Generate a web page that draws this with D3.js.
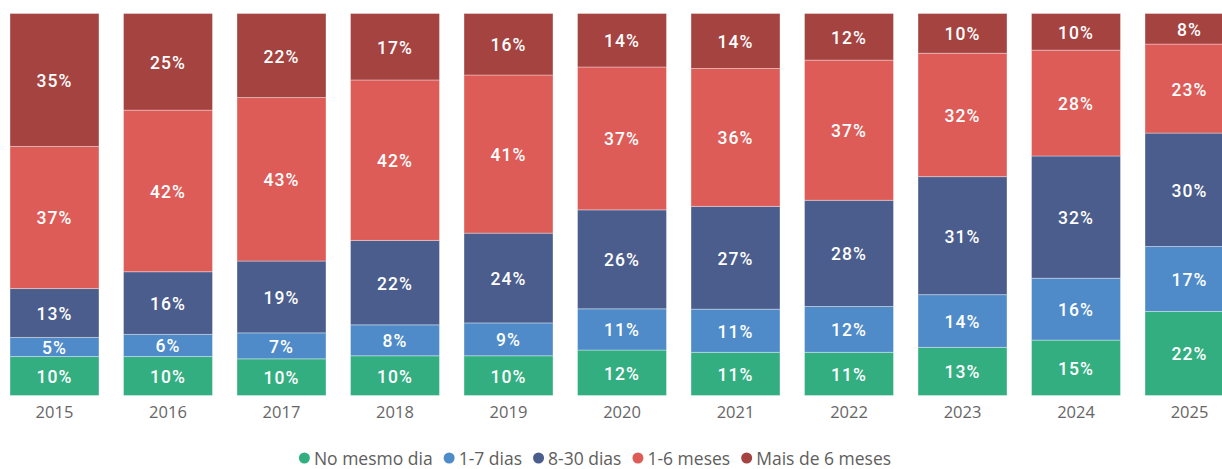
<!DOCTYPE html>
<html>
<head>
<meta charset="utf-8">
<script src="https://cdn.jsdelivr.net/npm/d3@7"></script>
<style>
  html, body { margin: 0; padding: 0; background: #fff; }
  svg { display: block; }
</style>
</head>
<body>
<svg id="chart" width="1222" height="469"></svg>
<script>
const years = ["2015","2016","2017","2018","2019","2020","2021","2022","2023","2024","2025"];
const seriesNames = ["No mesmo dia","1-7 dias","8-30 dias","1-6 meses","Mais de 6 meses"];
const seriesColors = ["#33ae81","#4f8bc9","#4b5d8c","#dd5c58","#a54341"];
// Percent values (labels shown rounded)
const noMesmoDia   = [10.2, 10.2, 9.6, 10.4, 10.4, 11.9, 11.3, 11.3, 12.6, 14.5, 22.0];
const umASete      = [ 5.0,  5.8, 6.8,  8.1,  8.6, 10.8, 11.3, 12.0, 13.8, 16.2, 17.0];
const oitoATrinta  = [12.8, 16.4, 18.8, 22.1, 23.5, 25.9, 26.9, 27.8, 30.9, 32.0, 29.7];
const umASeisMeses = [37.2, 42.3, 42.8, 42.0, 41.4, 37.4, 36.1, 36.7, 32.3, 27.7, 23.3];
const maisDeSeis   = [34.8, 25.3, 22.0, 17.4, 16.1, 14.0, 14.4, 12.2, 10.4,  9.6,  8.0];

const seriesValues = [noMesmoDia, umASete, oitoATrinta, umASeisMeses, maisDeSeis];
const rows = years.map((yr, i) => {
  const r = { year: yr };
  seriesNames.forEach((s, j) => r[s] = seriesValues[j][i]);
  return r;
});

const svg = d3.select("#chart");
const plotTop = 13.5, plotBottom = 395.5;

const x = d3.scaleBand().domain(years).range([10, 1234]).paddingInner(0.216).paddingOuter(0);
const y = d3.scaleLinear().domain([0, 1]).range([plotBottom, plotTop]);
const color = d3.scaleOrdinal().domain(seriesNames).range(seriesColors);

const stack = d3.stack().keys(seriesNames).offset(d3.stackOffsetExpand);
const stacked = stack(rows);

const layers = svg.append("g").selectAll("g")
  .data(stacked).join("g")
  .attr("fill", d => color(d.key));

layers.selectAll("rect")
  .data(d => d.map(p => Object.assign(p, { key: d.key })))
  .join("rect")
  .attr("x", d => x(d.data.year))
  .attr("width", x.bandwidth())
  .attr("y", d => y(d[1]))
  .attr("height", d => y(d[0]) - y(d[1]))
  .attr("stroke", "rgba(255,255,255,0.35)")
  .attr("stroke-width", 1);

layers.selectAll("text")
  .data(d => d)
  .join("text")
  .attr("x", d => x(d.data.year) + x.bandwidth() / 2)
  .attr("y", d => (y(d[0]) + y(d[1])) / 2 + 1)
  .attr("text-anchor", "middle")
  .attr("dominant-baseline", "central")
  .attr("fill", "#ffffff")
  .style("font-family", "Roboto, 'DejaVu Sans', sans-serif")
  .style("font-weight", "500")
  .style("font-size", "17.5px")
  .style("letter-spacing", "1px")
  .text(d => Math.round(d.data[d.key]) + "%");

// x axis
const xAxis = d3.axisBottom(x).tickSize(0).tickPadding(11);
const ax = svg.append("g").attr("transform", `translate(0,${plotBottom})`).call(xAxis);
ax.select(".domain").remove();
ax.selectAll("text")
  .attr("fill", "#666666")
  .style("font-family", "'Open Sans', 'Noto Sans', sans-serif")
  .style("font-size", "16.5px");

// legend
const legend = svg.append("g");
let lx = 0;
seriesNames.forEach((s, i) => {
  const g = legend.append("g").attr("transform", `translate(${lx},0)`);
  g.append("circle").attr("cx", 5.5).attr("cy", 0).attr("r", 5.5).attr("fill", seriesColors[i]);
  const t = g.append("text").attr("x", 15).attr("y", 0)
    .attr("dominant-baseline", "central")
    .attr("fill", "#605e5c")
    .style("font-family", "'Open Sans', 'Noto Sans', sans-serif")
    .style("font-size", "17.5px")
    .text(s);
  const w = t.node().getComputedTextLength();
  lx += 15 + w + 11;
});
const totalW = lx - 11;
legend.attr("transform", `translate(${595 - totalW / 2},458)`);
</script>
</body>
</html>
